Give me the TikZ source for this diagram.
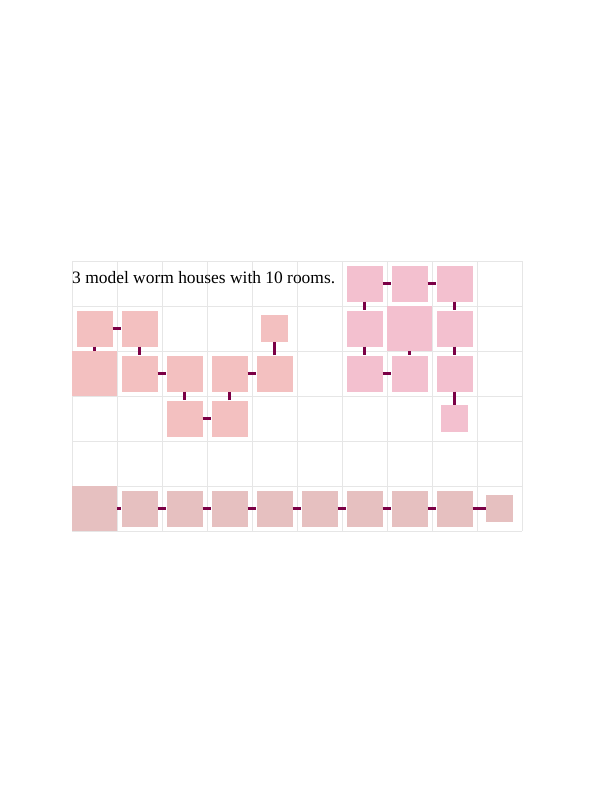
\documentclass[tikz,border=0pt]{standalone}
\usepackage{fontspec}
\setmainfont{Liberation Serif}
\usetikzlibrary{calc}
\definecolor{roomRose}{RGB}{243,192,192}
\definecolor{roomPink}{RGB}{243,192,207}
\definecolor{roomDust}{RGB}{230,192,192}
\definecolor{wormPlum}{RGB}{123,0,70}
\definecolor{gridGrey}{RGB}{230,230,230}
\begin{document}
\begin{tikzpicture}[x=45bp,y=-45bp,
  room/.style={fill=#1,inner sep=0pt,minimum size=36bp},
  tunnel/.style={draw=wormPlum,line width=3bp}]
  \useasboundingbox (-1.6,-5.8) rectangle (11.6,11.8);
  \foreach \i in {0,...,10} \draw[gridGrey,line width=0.9bp] (\i,0) -- (\i,6);
  \foreach \j in {0,...,6} \draw[gridGrey,line width=0.9bp] (0,\j) -- (10,\j);
  \node[anchor=base west,inner sep=0pt,font=\fontsize{17.5}{17.5}\selectfont] (title) at (0,0.49) {3 model worm houses with 10 rooms.};
  % house A
  \foreach \c/\r/\s in {0/1/36bp,1/1/36bp,4/1/27bp,0/2/45bp,1/2/36bp,2/2/36bp,3/2/36bp,4/2/36bp,2/3/36bp,3/3/36bp}
    \node[room=roomRose,minimum size=\s] (a-\c-\r) at (\c+.5,\r+.5) {};
  \foreach \p/\q in {0-1/1-1,0-1/0-2,1-1/1-2,1-2/2-2,2-2/2-3,2-3/3-3,3-3/3-2,3-2/4-2,4-2/4-1}
    \draw[tunnel] (a-\p) -- (a-\q);
  % house B
  \foreach \c/\r/\s in {6/0/36bp,7/0/36bp,8/0/36bp,6/1/36bp,7/1/45bp,8/1/36bp,6/2/36bp,7/2/36bp,8/2/36bp,8/3/27bp}
    \node[room=roomPink,minimum size=\s] (b-\c-\r) at (\c+.5,\r+.5) {};
  \foreach \p/\q in {6-0/7-0,7-0/8-0,6-0/6-1,8-0/8-1,6-1/6-2,7-1/7-2,8-1/8-2,6-2/7-2,8-2/8-3}
    \draw[tunnel] (b-\p) -- (b-\q);
  % house C
  \foreach \c/\s in {0/45bp,1/36bp,2/36bp,3/36bp,4/36bp,5/36bp,6/36bp,7/36bp,8/36bp,9/27bp}
    \node[room=roomDust,minimum size=\s] (c-\c) at (\c+.5,5.5) {};
  \foreach \p [evaluate=\p as \q using int(\p+1)] in {0,...,8}
    \draw[tunnel] (c-\p) -- (c-\q);
\end{tikzpicture}
\end{document}
